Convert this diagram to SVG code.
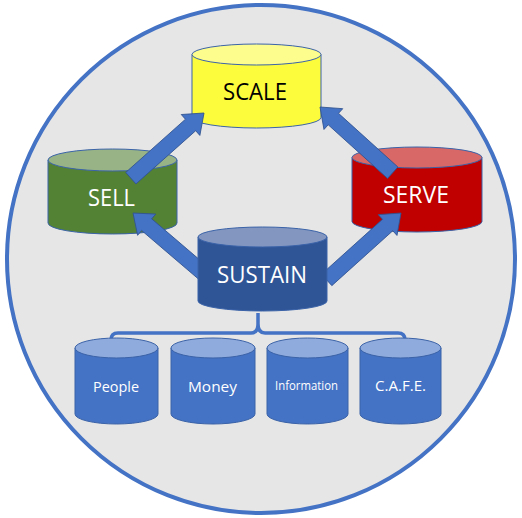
<svg xmlns="http://www.w3.org/2000/svg" width="522" height="518" viewBox="0 0 522 518">
<style>
.t{font-family:"Open Sans","Noto Sans","Liberation Sans",sans-serif;text-anchor:middle}
.big{font-size:24px}
.sm{font-size:15px}
.xs{font-size:12px}
.w{fill:#FFFFFF}
.k{fill:#000000}
.cyl{stroke:#3B63A8;stroke-width:1}
.arrow{fill:#4472C4;stroke:#2F528F;stroke-width:0.8}
</style>
<circle cx="261" cy="259" r="254" fill="#E6E6E6" stroke="#4472C4" stroke-width="4"/>

<g id="scale">
<path class="cyl" fill="#FCFC3C" d="M192,54.5 V117.5 A64.5,10.5 0 0 0 321,117.5 V54.5 Z"/>
<ellipse class="cyl" cx="256.5" cy="54.5" rx="64.5" ry="10.5" fill="#FDFD8E"/>
<text class="t big k" x="255" y="100" textLength="64" lengthAdjust="spacingAndGlyphs">SCALE</text>
</g>

<g id="sell">
<path class="cyl" fill="#548235" d="M48,160 V223 A64.5,11 0 0 0 177,223 V160 Z"/>
<ellipse class="cyl" cx="112.5" cy="160" rx="64.5" ry="11" fill="#98B486"/>
<text class="t big w" x="111.5" y="206" textLength="47" lengthAdjust="spacingAndGlyphs">SELL</text>
</g>

<g id="serve">
<path class="cyl" fill="#C00000" d="M352,157.5 V221.5 A65,10.5 0 0 0 482,221.5 V157.5 Z"/>
<ellipse class="cyl" cx="417" cy="157.5" rx="65" ry="10.5" fill="#D86767"/>
<text class="t big w" x="416" y="203" textLength="66" lengthAdjust="spacingAndGlyphs">SERVE</text>
</g>

<g id="connectors">
<polygon class="arrow" transform="translate(204,113) rotate(-41.7)" points="-98,-7.7 -18,-7.7 -18,-14 0,0 -18,14 -18,7.7 -98,7.7"/>
<polygon class="arrow" transform="translate(320,107) rotate(-137.9)" points="-98,-7.7 -18,-7.7 -18,-14 0,0 -18,14 -18,7.7 -98,7.7"/>
<polygon class="arrow" transform="translate(133,213) rotate(-139.5)" points="-95,-7.7 -18,-7.7 -18,-14 0,0 -18,14 -18,7.7 -95,7.7"/>
<polygon class="arrow" transform="translate(401,213) rotate(-42)" points="-100,-7.7 -18,-7.7 -18,-14 0,0 -18,14 -18,7.7 -100,7.7"/>
<path d="M111,352 V340 Q111,333 118,333 H251 Q258,333 258,324 V313 M258,324 Q258,333 265,333 H398 Q405,333 405,340 V352" fill="none" stroke="#4472C4" stroke-width="3.5"/>
</g>

<g id="sustain">
<path class="cyl" fill="#2F5597" d="M198,237 V301 A64.5,10 0 0 0 327,301 V237 Z"/>
<ellipse class="cyl" cx="262.5" cy="237" rx="64.5" ry="10" fill="#8296C0"/>
<text class="t big w" x="262" y="283" textLength="90" lengthAdjust="spacingAndGlyphs">SUSTAIN</text>
</g>

<g id="people">
<path class="cyl" fill="#4472C4" d="M75,348 V414 A41.5,10 0 0 0 158,414 V348 Z"/>
<ellipse class="cyl" cx="116.5" cy="348" rx="41.5" ry="10" fill="#8FAADC"/>
<text class="t sm w" x="116" y="392" textLength="46" lengthAdjust="spacingAndGlyphs">People</text>
</g>

<g id="money">
<path class="cyl" fill="#4472C4" d="M171,348 V414 A42,10 0 0 0 255,414 V348 Z"/>
<ellipse class="cyl" cx="213" cy="348" rx="42" ry="10" fill="#8FAADC"/>
<text class="t sm w" x="212.5" y="392" textLength="49" lengthAdjust="spacingAndGlyphs">Money</text>
</g>

<g id="information">
<path class="cyl" fill="#4472C4" d="M267,348 V414 A40.5,10 0 0 0 348,414 V348 Z"/>
<ellipse class="cyl" cx="307.5" cy="348" rx="40.5" ry="10" fill="#8FAADC"/>
<text class="t xs w" x="306.5" y="390" textLength="63" lengthAdjust="spacingAndGlyphs">Information</text>
</g>

<g id="cafe">
<path class="cyl" fill="#4472C4" d="M360,348 V414 A40.5,10 0 0 0 441,414 V348 Z"/>
<ellipse class="cyl" cx="400.5" cy="348" rx="40.5" ry="10" fill="#8FAADC"/>
<text class="t sm w" x="400.5" y="391" textLength="51" lengthAdjust="spacingAndGlyphs">C.A.F.E.</text>
</g>
</svg>
